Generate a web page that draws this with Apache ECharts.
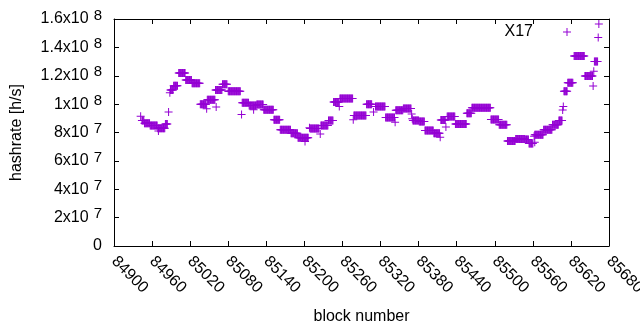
<!DOCTYPE html>
<html>
<head>
<meta charset="utf-8">
<script src="https://cdn.jsdelivr.net/npm/echarts@6/dist/echarts.min.js"></script>
<style>
html, body { margin: 0; padding: 0; background: #fff; }
#chart { width: 640px; height: 330px; }
</style>
</head>
<body>
<div id="chart"></div>
<script>
// hashrate, values in 1e6 h/s
// runs of blocks that share the same value
var runStart = [84944, 84948, 84957, 84969, 84981, 84989, 84994, 85002, 85013, 85023,
    85036, 85047, 85060, 85071, 85080, 85102, 85113, 85125, 85136, 85152,
    85162, 85179, 85190, 85209, 85226, 85238, 85246, 85256, 85278, 85298,
    85312, 85328, 85344, 85356, 85371, 85381, 85390, 85404, 85415, 85425,
    85438, 85456, 85464, 85494, 85507, 85520, 85533, 85548, 85554, 85563,
    85577, 85591, 85601, 85609, 85615, 85625, 85642, 85657];
var runEnd = [84947, 84956, 84968, 84980, 84984, 84993, 85000, 85012, 85022, 85035,
    85045, 85059, 85070, 85078, 85099, 85112, 85124, 85135, 85151, 85161,
    85178, 85189, 85206, 85223, 85237, 85245, 85254, 85276, 85297, 85306,
    85327, 85342, 85355, 85368, 85380, 85389, 85403, 85413, 85422, 85437,
    85455, 85463, 85493, 85506, 85519, 85532, 85547, 85553, 85560, 85576,
    85590, 85600, 85606, 85614, 85623, 85641, 85654, 85662];
var runValue = [88.5, 86.5, 85, 83, 86, 110, 113, 122, 117, 114.7,
    100, 103, 110, 114, 109, 101, 99, 99.8, 96, 89,
    82, 79.5, 76.3, 82.8, 85, 88.5, 101.5, 104, 92, 100,
    98.4, 90.6, 95.6, 97, 88.5, 87.8, 81.4, 79.5, 88.8, 91.3,
    86, 93.5, 97.5, 89.2, 85.5, 74, 75.4, 75, 72.2, 78.5,
    82, 85.4, 88.5, 109, 115, 134, 119.8, 130];
// lone points
var singleBlock = [84942, 84970, 84986, 84988, 85046, 85061, 85101, 85120, 85201, 85208,
    85225, 85255, 85277, 85309, 85343, 85369, 85370, 85414, 85423, 85562,
    85563, 85607, 85608, 85655, 85656, 85663, 85664];
var singleValue = [91.5, 81, 94.4, 108, 96.8, 98, 92.7, 96, 73.6, 83.3,
    79, 98.4, 89, 94.4, 87.3, 93, 89.7, 76.7, 83.8, 77.4,
    73.1, 95.8, 98.4, 112.8, 123.2, 147, 156.5];

var yTickMantissa = ['0', '2', '4', '6', '8', '1', '1.2', '1.4', '1.6'];
var yTickExp = ['', '7', '7', '7', '7', '8', '8', '8', '8'];

var chart = echarts.init(document.getElementById('chart'), null, {renderer: 'canvas'});

var data = [];
for (var i = 0; i < runStart.length; i++) {
    for (var b = runStart[i]; b <= runEnd[i]; b++) {
        data.push([b, runValue[i] * 1e6]);
    }
}
for (var j = 0; j < singleBlock.length; j++) {
    data.push([singleBlock[j], singleValue[j] * 1e6]);
}

var plus = 'path://M0,3.5L8,3.5L8,4.5L0,4.5Z M3.5,0L4.5,0L4.5,8L3.5,8Z';
var font = 'Liberation Sans';
var axisLine = {show: true, onZero: false, lineStyle: {color: '#000', width: 1}};
var axisTick = {show: true, inside: true, length: 5, lineStyle: {color: '#000'}};

option = {
    animation: false,
    backgroundColor: '#fff',
    grid: {left: 114, right: 31, top: 19, bottom: 84, outerBoundsMode: 'none'},
    legend: {
        data: ['X17'],
        right: 64,
        top: 19,
        align: 'right',
        itemWidth: 58,
        itemHeight: 8,
        icon: plus,
        selectedMode: false,
        textStyle: {fontFamily: font, fontSize: 16, color: '#000'}
    },
    xAxis: [{
        type: 'value',
        position: 'bottom',
        min: 84900,
        max: 85680,
        interval: 60,
        axisLine: axisLine,
        axisTick: axisTick,
        splitLine: {show: false},
        axisLabel: {
            rotate: -45,
            margin: 13,
            color: '#000',
            fontFamily: font,
            fontSize: 16,
            hideOverlap: false,
            formatter: function (v) { return String(v); }
        },
        name: 'block number',
        nameLocation: 'middle',
        nameGap: 63,
        nameTextStyle: {fontFamily: font, fontSize: 16, color: '#000'}
    }, {
        type: 'value',
        position: 'top',
        min: 84900,
        max: 85680,
        interval: 60,
        axisLine: axisLine,
        axisTick: axisTick,
        splitLine: {show: false},
        axisLabel: {show: false}
    }],
    yAxis: [{
        type: 'value',
        position: 'left',
        min: 0,
        max: 1.6e8,
        interval: 2e7,
        axisLine: axisLine,
        axisTick: axisTick,
        splitLine: {show: false},
        axisLabel: {
            margin: 12,
            color: '#000',
            fontFamily: font,
            fontSize: 16,
            formatter: function (value) {
                var k = Math.round(value / 2e7);
                if (!yTickExp[k]) return yTickMantissa[k];
                return '{b|' + yTickMantissa[k] + 'x10}{s|' + yTickExp[k] + '}';
            },
            rich: {
                b: {fontFamily: font, fontSize: 16, color: '#000'},
                s: {fontFamily: font, fontSize: 15, color: '#000', padding: [0, 0, 7, 5]}
            }
        },
        name: 'hashrate [h/s]',
        nameLocation: 'middle',
        nameRotate: 90,
        nameGap: 89,
        nameTextStyle: {fontFamily: font, fontSize: 16, color: '#000'}
    }, {
        type: 'value',
        position: 'right',
        min: 0,
        max: 1.6e8,
        interval: 2e7,
        axisLine: axisLine,
        axisTick: axisTick,
        splitLine: {show: false},
        axisLabel: {show: false}
    }],
    series: [{
        name: 'X17',
        type: 'scatter',
        symbol: plus,
        symbolSize: 8,
        itemStyle: {color: '#9400d3', opacity: 1},
        emphasis: {disabled: true},
        data: data
    }]
};
chart.setOption(option);
</script>
</body>
</html>
